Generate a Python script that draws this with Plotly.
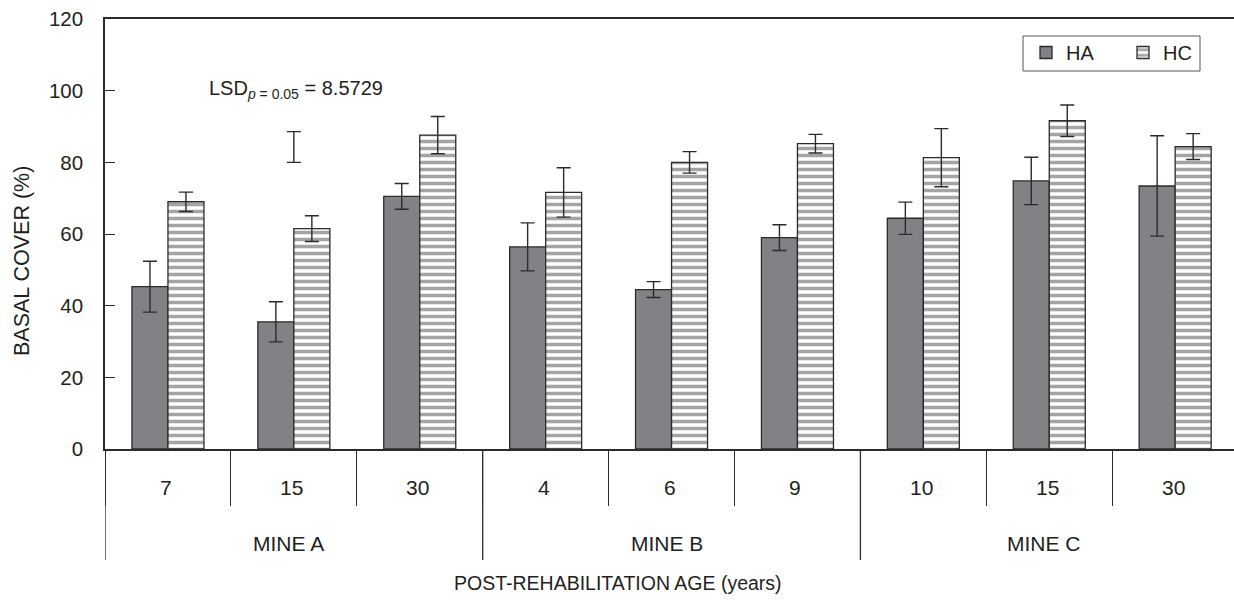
import plotly.graph_objects as go

mines = ["MINE A", "MINE A", "MINE A", "MINE B", "MINE B", "MINE B", "MINE C", "MINE C", "MINE C"]
ages = ["7", "15", "30", "4", "6", "9", "10", "15", "30"]
ha = [45.3, 35.5, 70.5, 56.4, 44.5, 59.0, 64.4, 74.8, 73.4]
ha_err = [7.1, 5.6, 3.6, 6.7, 2.2, 3.6, 4.5, 6.6, 14.0]
hc = [69.0, 61.5, 87.6, 71.6, 80.0, 85.2, 81.3, 91.6, 84.4]
hc_err = [2.7, 3.6, 5.2, 6.9, 3.0, 2.6, 8.1, 4.4, 3.6]
lsd_value = 8.5729
lsd_base = 80.0
lsd_category = 1
mine_names = ["MINE A", "MINE B", "MINE C"]

cats = [f"{m} {a}" for m, a in zip(mines, ages)]

FONT = "Liberation Sans, Arial, sans-serif"
TXT = "#231f20"
LINE = "#2b2b2b"

fig = go.Figure()
fig.add_trace(go.Bar(
    x=cats, y=ha, name="HA",
    marker=dict(color="#808285", line=dict(color=LINE, width=1.3)),
    error_y=dict(type="data", array=ha_err, color=LINE, thickness=1.4, width=7),
))
fig.add_trace(go.Bar(
    x=cats, y=hc, name="HC",
    marker=dict(color="white", line=dict(color=LINE, width=1.3),
                pattern=dict(shape="-", fgcolor="#4a4a4a", bgcolor="white", size=7, solidity=0.5)),
    error_y=dict(type="data", array=hc_err, color=LINE, thickness=1.4, width=7),
))
fig.add_trace(go.Scatter(
    x=[cats[lsd_category]], y=[lsd_base + lsd_value / 2], mode="markers",
    marker=dict(size=1, opacity=0), showlegend=False, hoverinfo="skip",
    error_y=dict(type="data", array=[lsd_value / 2], color=LINE, thickness=1.4, width=7),
))

W, H = 1234, 600
L, R, T, B = 105, 0, 19, 151
pw = W - L - R
ph = H - T - B
catw = 125.9
xmax = -0.5 + pw / catw

def px2py(y):
    return (H - B - y) / ph

def px2px(x):
    return (x - L) / pw

annotations = []
for i, a in enumerate(ages):
    annotations.append(dict(x=i, xref="x", y=px2py(487), yref="paper", text=a,
                            xanchor="center", yanchor="middle",
                            showarrow=False, xshift=-2, font=dict(size=21, color=TXT, family=FONT)))
for g, m in enumerate(mine_names):
    annotations.append(dict(x=3 * g + 1, xref="x", y=px2py(543), yref="paper", text=m,
                            xanchor="center", yanchor="middle",
                            showarrow=False, xshift=-5, font=dict(size=21, color=TXT, family=FONT)))
annotations.append(dict(x=px2px(618), xref="paper", y=px2py(583), yref="paper",
                        xanchor="center", yanchor="middle",
                        text="POST-REHABILITATION AGE (years)", showarrow=False,
                        font=dict(size=19.5, color=TXT, family=FONT)))
annotations.append(dict(x=px2px(22), xref="paper", y=px2py(261), yref="paper",
                        xanchor="center", yanchor="middle",
                        text="BASAL COVER (%)", textangle=-90, showarrow=False,
                        font=dict(size=21.5, color=TXT, family=FONT)))
annotations.append(dict(x=(207 - L) / catw - 0.5, xref="x", y=100.2, yref="y",
                        xanchor="left", yanchor="middle",
                        text="LSD<sub><i>p</i> = 0.05</sub> = 8.5729", showarrow=False,
                        font=dict(size=20, color=TXT, family=FONT)))

shapes = []
for bx in [-0.5, 2.5, 5.5]:
    shapes.append(dict(type="line", xref="x", yref="paper", x0=bx, x1=bx,
                       y0=0, y1=px2py(560), line=dict(color=LINE, width=1.3)))
# legend frame
shapes.append(dict(type="rect", xref="paper", yref="paper",
                   x0=px2px(1023), x1=px2px(1200), y0=px2py(71), y1=px2py(36),
                   line=dict(color="#555555", width=1), fillcolor="rgba(0,0,0,0)", layer="above"))

fig.update_layout(
    width=W, height=H,
    margin=dict(l=L, r=R, t=T, b=B, pad=0),
    paper_bgcolor="white", plot_bgcolor="white",
    barmode="group", bargap=0.428, bargroupgap=0,
    font=dict(family=FONT, size=19, color=TXT),
    showlegend=True,
    legend=dict(orientation="h", x=px2px(1026), y=px2py(33), xanchor="left", yanchor="top",
                borderwidth=0, bgcolor="rgba(0,0,0,0)",
                entrywidth=52, entrywidthmode="pixels", itemwidth=30,
                font=dict(size=20, color=TXT, family=FONT), traceorder="normal"),
    xaxis=dict(type="category", categoryorder="array", categoryarray=cats,
               range=[-0.5, xmax], showticklabels=False,
               showline=True, linecolor=LINE, linewidth=1.5, mirror=True,
               ticks="outside", tickson="boundaries", ticklen=55, tickcolor=LINE, tickwidth=1.3,
               showgrid=False, zeroline=False),
    yaxis=dict(range=[0, 120], tickvals=[0, 20, 40, 60, 80, 100, 120],
               ticks="inside", ticklen=10, tickcolor=LINE, tickwidth=1.3,
               showline=True, linecolor=LINE, linewidth=1.5,
               showgrid=False, zeroline=False, ticklabelstandoff=16,
               tickfont=dict(size=20.5, color=TXT, family=FONT)),
    annotations=annotations,
    shapes=shapes,
)

fig.write_html("out.html")
